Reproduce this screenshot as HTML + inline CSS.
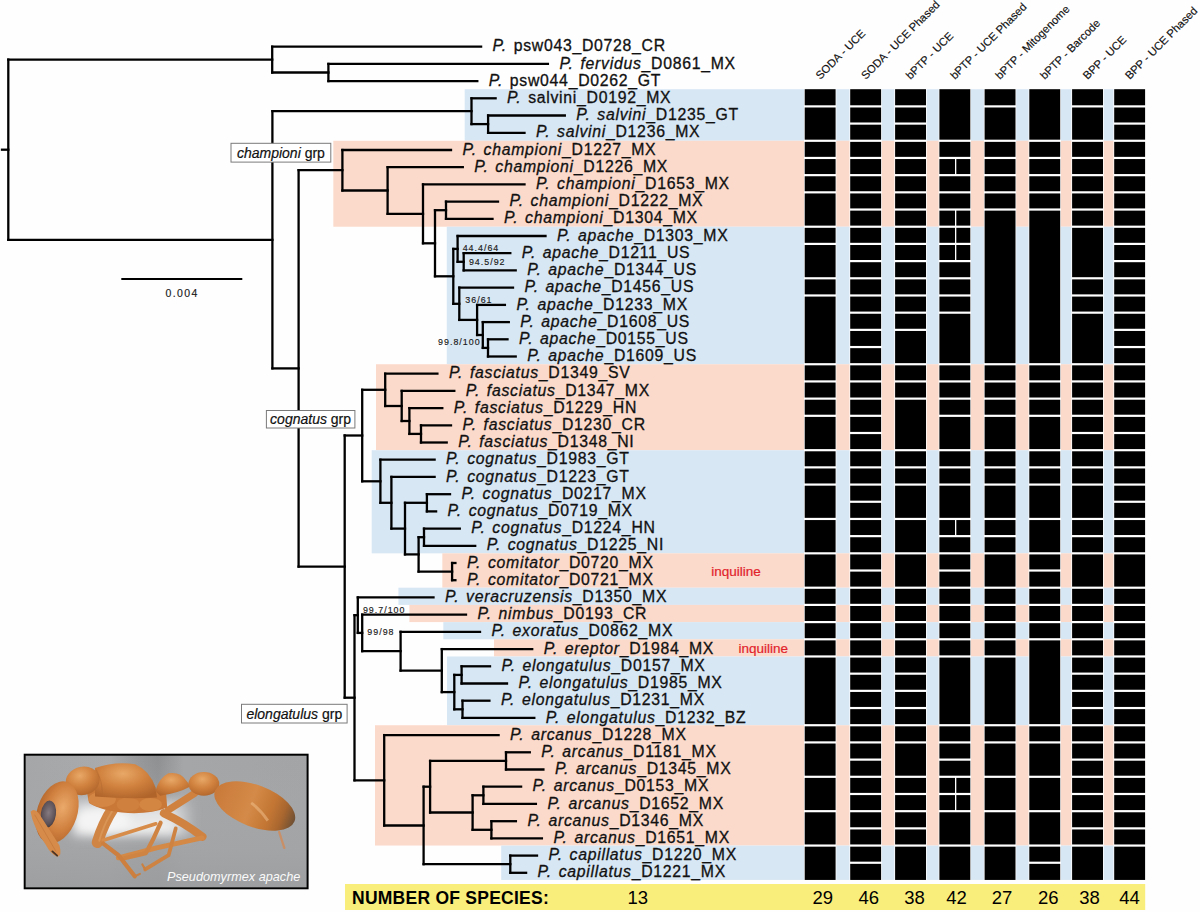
<!DOCTYPE html>
<html><head><meta charset="utf-8"><title>Pseudomyrmex species delimitation</title>
<style>html,body{margin:0;padding:0;background:#fff;}svg{display:block;font-family:"Liberation Sans",sans-serif;}</style></head><body>
<svg width="1200" height="912" viewBox="0 0 1200 912">
<rect x="0" y="0" width="1200" height="912" fill="#fefefe"/>
<rect x="464.7" y="89.20" width="680.5" height="51.57" fill="#d8e7f4"/>
<rect x="333.3" y="140.77" width="811.9" height="85.95" fill="#fbdacb"/>
<rect x="446.8" y="226.72" width="698.4" height="137.52" fill="#d8e7f4"/>
<rect x="376.0" y="364.24" width="769.2" height="85.95" fill="#fbdacb"/>
<rect x="371.7" y="450.19" width="773.5" height="103.14" fill="#d8e7f4"/>
<rect x="442.3" y="553.33" width="702.9" height="34.38" fill="#fbdacb"/>
<rect x="398.4" y="587.71" width="746.8" height="17.19" fill="#d8e7f4"/>
<rect x="409.4" y="604.90" width="735.8" height="17.19" fill="#fbdacb"/>
<rect x="443.3" y="622.09" width="701.9" height="17.19" fill="#d8e7f4"/>
<rect x="494.0" y="639.28" width="651.2" height="17.19" fill="#fbdacb"/>
<rect x="447.0" y="656.47" width="698.2" height="68.76" fill="#d8e7f4"/>
<rect x="375.0" y="725.23" width="770.2" height="120.33" fill="#fbdacb"/>
<rect x="501.2" y="845.56" width="644.0" height="34.38" fill="#d8e7f4"/>
<rect x="804.0" y="88.70" width="32.3" height="791.74" fill="#fff"/>
<rect x="804.7" y="89.20" width="30.9" height="16.09" fill="#000"/>
<rect x="804.7" y="107.49" width="30.9" height="32.18" fill="#000"/>
<rect x="804.7" y="141.87" width="30.9" height="14.99" fill="#000"/>
<rect x="804.7" y="159.06" width="30.9" height="14.99" fill="#000"/>
<rect x="804.7" y="176.25" width="30.9" height="14.99" fill="#000"/>
<rect x="804.7" y="193.44" width="30.9" height="32.18" fill="#000"/>
<rect x="804.7" y="227.82" width="30.9" height="14.99" fill="#000"/>
<rect x="804.7" y="245.01" width="30.9" height="32.18" fill="#000"/>
<rect x="804.7" y="279.39" width="30.9" height="14.99" fill="#000"/>
<rect x="804.7" y="296.58" width="30.9" height="66.56" fill="#000"/>
<rect x="804.7" y="365.34" width="30.9" height="14.99" fill="#000"/>
<rect x="804.7" y="382.53" width="30.9" height="14.99" fill="#000"/>
<rect x="804.7" y="399.72" width="30.9" height="14.99" fill="#000"/>
<rect x="804.7" y="416.91" width="30.9" height="32.18" fill="#000"/>
<rect x="804.7" y="451.29" width="30.9" height="14.99" fill="#000"/>
<rect x="804.7" y="468.48" width="30.9" height="14.99" fill="#000"/>
<rect x="804.7" y="485.67" width="30.9" height="32.18" fill="#000"/>
<rect x="804.7" y="520.05" width="30.9" height="32.18" fill="#000"/>
<rect x="804.7" y="554.43" width="30.9" height="32.18" fill="#000"/>
<rect x="804.7" y="588.81" width="30.9" height="14.99" fill="#000"/>
<rect x="804.7" y="606.00" width="30.9" height="14.99" fill="#000"/>
<rect x="804.7" y="623.19" width="30.9" height="14.99" fill="#000"/>
<rect x="804.7" y="640.38" width="30.9" height="14.99" fill="#000"/>
<rect x="804.7" y="657.57" width="30.9" height="66.56" fill="#000"/>
<rect x="804.7" y="726.33" width="30.9" height="14.99" fill="#000"/>
<rect x="804.7" y="743.52" width="30.9" height="32.18" fill="#000"/>
<rect x="804.7" y="777.90" width="30.9" height="32.18" fill="#000"/>
<rect x="804.7" y="812.28" width="30.9" height="32.18" fill="#000"/>
<rect x="804.7" y="846.66" width="30.9" height="33.28" fill="#000"/>
<rect x="849.5" y="88.70" width="32.3" height="791.74" fill="#fff"/>
<rect x="850.2" y="89.20" width="30.9" height="16.09" fill="#000"/>
<rect x="850.2" y="107.49" width="30.9" height="14.99" fill="#000"/>
<rect x="850.2" y="124.68" width="30.9" height="14.99" fill="#000"/>
<rect x="850.2" y="141.87" width="30.9" height="14.99" fill="#000"/>
<rect x="850.2" y="159.06" width="30.9" height="14.99" fill="#000"/>
<rect x="850.2" y="176.25" width="30.9" height="14.99" fill="#000"/>
<rect x="850.2" y="193.44" width="30.9" height="14.99" fill="#000"/>
<rect x="850.2" y="210.63" width="30.9" height="14.99" fill="#000"/>
<rect x="850.2" y="227.82" width="30.9" height="14.99" fill="#000"/>
<rect x="850.2" y="245.01" width="30.9" height="14.99" fill="#000"/>
<rect x="850.2" y="262.20" width="30.9" height="14.99" fill="#000"/>
<rect x="850.2" y="279.39" width="30.9" height="14.99" fill="#000"/>
<rect x="850.2" y="296.58" width="30.9" height="14.99" fill="#000"/>
<rect x="850.2" y="313.77" width="30.9" height="14.99" fill="#000"/>
<rect x="850.2" y="330.96" width="30.9" height="14.99" fill="#000"/>
<rect x="850.2" y="348.15" width="30.9" height="14.99" fill="#000"/>
<rect x="850.2" y="365.34" width="30.9" height="14.99" fill="#000"/>
<rect x="850.2" y="382.53" width="30.9" height="14.99" fill="#000"/>
<rect x="850.2" y="399.72" width="30.9" height="14.99" fill="#000"/>
<rect x="850.2" y="416.91" width="30.9" height="14.99" fill="#000"/>
<rect x="850.2" y="434.10" width="30.9" height="14.99" fill="#000"/>
<rect x="850.2" y="451.29" width="30.9" height="14.99" fill="#000"/>
<rect x="850.2" y="468.48" width="30.9" height="14.99" fill="#000"/>
<rect x="850.2" y="485.67" width="30.9" height="14.99" fill="#000"/>
<rect x="850.2" y="502.86" width="30.9" height="14.99" fill="#000"/>
<rect x="850.2" y="520.05" width="30.9" height="14.99" fill="#000"/>
<rect x="850.2" y="537.24" width="30.9" height="14.99" fill="#000"/>
<rect x="850.2" y="554.43" width="30.9" height="14.99" fill="#000"/>
<rect x="850.2" y="571.62" width="30.9" height="14.99" fill="#000"/>
<rect x="850.2" y="588.81" width="30.9" height="14.99" fill="#000"/>
<rect x="850.2" y="606.00" width="30.9" height="14.99" fill="#000"/>
<rect x="850.2" y="623.19" width="30.9" height="14.99" fill="#000"/>
<rect x="850.2" y="640.38" width="30.9" height="14.99" fill="#000"/>
<rect x="850.2" y="657.57" width="30.9" height="14.99" fill="#000"/>
<rect x="850.2" y="674.76" width="30.9" height="14.99" fill="#000"/>
<rect x="850.2" y="691.95" width="30.9" height="14.99" fill="#000"/>
<rect x="850.2" y="709.14" width="30.9" height="14.99" fill="#000"/>
<rect x="850.2" y="726.33" width="30.9" height="14.99" fill="#000"/>
<rect x="850.2" y="743.52" width="30.9" height="14.99" fill="#000"/>
<rect x="850.2" y="760.71" width="30.9" height="14.99" fill="#000"/>
<rect x="850.2" y="777.90" width="30.9" height="14.99" fill="#000"/>
<rect x="850.2" y="795.09" width="30.9" height="14.99" fill="#000"/>
<rect x="850.2" y="812.28" width="30.9" height="14.99" fill="#000"/>
<rect x="850.2" y="829.47" width="30.9" height="14.99" fill="#000"/>
<rect x="850.2" y="846.66" width="30.9" height="14.99" fill="#000"/>
<rect x="850.2" y="863.85" width="30.9" height="16.09" fill="#000"/>
<rect x="894.4" y="88.70" width="32.3" height="791.74" fill="#fff"/>
<rect x="895.1" y="89.20" width="30.9" height="16.09" fill="#000"/>
<rect x="895.1" y="107.49" width="30.9" height="14.99" fill="#000"/>
<rect x="895.1" y="124.68" width="30.9" height="14.99" fill="#000"/>
<rect x="895.1" y="141.87" width="30.9" height="14.99" fill="#000"/>
<rect x="895.1" y="159.06" width="30.9" height="14.99" fill="#000"/>
<rect x="895.1" y="176.25" width="30.9" height="14.99" fill="#000"/>
<rect x="895.1" y="193.44" width="30.9" height="14.99" fill="#000"/>
<rect x="895.1" y="210.63" width="30.9" height="14.99" fill="#000"/>
<rect x="895.1" y="227.82" width="30.9" height="14.99" fill="#000"/>
<rect x="895.1" y="245.01" width="30.9" height="14.99" fill="#000"/>
<rect x="895.1" y="262.20" width="30.9" height="14.99" fill="#000"/>
<rect x="895.1" y="279.39" width="30.9" height="14.99" fill="#000"/>
<rect x="895.1" y="296.58" width="30.9" height="14.99" fill="#000"/>
<rect x="895.1" y="313.77" width="30.9" height="14.99" fill="#000"/>
<rect x="895.1" y="330.96" width="30.9" height="32.18" fill="#000"/>
<rect x="895.1" y="365.34" width="30.9" height="14.99" fill="#000"/>
<rect x="895.1" y="382.53" width="30.9" height="14.99" fill="#000"/>
<rect x="895.1" y="399.72" width="30.9" height="49.37" fill="#000"/>
<rect x="895.1" y="451.29" width="30.9" height="14.99" fill="#000"/>
<rect x="895.1" y="468.48" width="30.9" height="14.99" fill="#000"/>
<rect x="895.1" y="485.67" width="30.9" height="32.18" fill="#000"/>
<rect x="895.1" y="520.05" width="30.9" height="32.18" fill="#000"/>
<rect x="895.1" y="554.43" width="30.9" height="32.18" fill="#000"/>
<rect x="895.1" y="588.81" width="30.9" height="14.99" fill="#000"/>
<rect x="895.1" y="606.00" width="30.9" height="14.99" fill="#000"/>
<rect x="895.1" y="623.19" width="30.9" height="14.99" fill="#000"/>
<rect x="895.1" y="640.38" width="30.9" height="14.99" fill="#000"/>
<rect x="895.1" y="657.57" width="30.9" height="14.99" fill="#000"/>
<rect x="895.1" y="674.76" width="30.9" height="14.99" fill="#000"/>
<rect x="895.1" y="691.95" width="30.9" height="14.99" fill="#000"/>
<rect x="895.1" y="709.14" width="30.9" height="14.99" fill="#000"/>
<rect x="895.1" y="726.33" width="30.9" height="14.99" fill="#000"/>
<rect x="895.1" y="743.52" width="30.9" height="32.18" fill="#000"/>
<rect x="895.1" y="777.90" width="30.9" height="14.99" fill="#000"/>
<rect x="895.1" y="795.09" width="30.9" height="14.99" fill="#000"/>
<rect x="895.1" y="812.28" width="30.9" height="14.99" fill="#000"/>
<rect x="895.1" y="829.47" width="30.9" height="14.99" fill="#000"/>
<rect x="895.1" y="846.66" width="30.9" height="33.28" fill="#000"/>
<rect x="938.7" y="88.70" width="32.3" height="791.74" fill="#fff"/>
<rect x="939.4" y="89.20" width="30.9" height="50.47" fill="#000"/>
<rect x="939.4" y="141.87" width="30.9" height="14.99" fill="#000"/>
<rect x="939.4" y="159.06" width="30.9" height="14.99" fill="#000"/>
<rect x="939.4" y="176.25" width="30.9" height="14.99" fill="#000"/>
<rect x="939.4" y="193.44" width="30.9" height="14.99" fill="#000"/>
<rect x="939.4" y="210.63" width="30.9" height="14.99" fill="#000"/>
<rect x="939.4" y="227.82" width="30.9" height="14.99" fill="#000"/>
<rect x="939.4" y="245.01" width="30.9" height="14.99" fill="#000"/>
<rect x="939.4" y="262.20" width="30.9" height="14.99" fill="#000"/>
<rect x="939.4" y="279.39" width="30.9" height="14.99" fill="#000"/>
<rect x="939.4" y="296.58" width="30.9" height="14.99" fill="#000"/>
<rect x="939.4" y="313.77" width="30.9" height="49.37" fill="#000"/>
<rect x="939.4" y="365.34" width="30.9" height="14.99" fill="#000"/>
<rect x="939.4" y="382.53" width="30.9" height="14.99" fill="#000"/>
<rect x="939.4" y="399.72" width="30.9" height="14.99" fill="#000"/>
<rect x="939.4" y="416.91" width="30.9" height="32.18" fill="#000"/>
<rect x="939.4" y="451.29" width="30.9" height="14.99" fill="#000"/>
<rect x="939.4" y="468.48" width="30.9" height="14.99" fill="#000"/>
<rect x="939.4" y="485.67" width="30.9" height="32.18" fill="#000"/>
<rect x="939.4" y="520.05" width="30.9" height="14.99" fill="#000"/>
<rect x="939.4" y="537.24" width="30.9" height="14.99" fill="#000"/>
<rect x="939.4" y="554.43" width="30.9" height="14.99" fill="#000"/>
<rect x="939.4" y="571.62" width="30.9" height="14.99" fill="#000"/>
<rect x="939.4" y="588.81" width="30.9" height="14.99" fill="#000"/>
<rect x="939.4" y="606.00" width="30.9" height="14.99" fill="#000"/>
<rect x="939.4" y="623.19" width="30.9" height="14.99" fill="#000"/>
<rect x="939.4" y="640.38" width="30.9" height="14.99" fill="#000"/>
<rect x="939.4" y="657.57" width="30.9" height="66.56" fill="#000"/>
<rect x="939.4" y="726.33" width="30.9" height="14.99" fill="#000"/>
<rect x="939.4" y="743.52" width="30.9" height="14.99" fill="#000"/>
<rect x="939.4" y="760.71" width="30.9" height="14.99" fill="#000"/>
<rect x="939.4" y="777.90" width="30.9" height="14.99" fill="#000"/>
<rect x="939.4" y="795.09" width="30.9" height="14.99" fill="#000"/>
<rect x="939.4" y="812.28" width="30.9" height="32.18" fill="#000"/>
<rect x="939.4" y="846.66" width="30.9" height="33.28" fill="#000"/>
<rect x="983.9" y="88.70" width="32.3" height="791.74" fill="#fff"/>
<rect x="984.6" y="89.20" width="30.9" height="16.09" fill="#000"/>
<rect x="984.6" y="107.49" width="30.9" height="32.18" fill="#000"/>
<rect x="984.6" y="141.87" width="30.9" height="14.99" fill="#000"/>
<rect x="984.6" y="159.06" width="30.9" height="14.99" fill="#000"/>
<rect x="984.6" y="176.25" width="30.9" height="14.99" fill="#000"/>
<rect x="984.6" y="193.44" width="30.9" height="14.99" fill="#000"/>
<rect x="984.6" y="210.63" width="30.9" height="152.51" fill="#000"/>
<rect x="984.6" y="365.34" width="30.9" height="14.99" fill="#000"/>
<rect x="984.6" y="382.53" width="30.9" height="14.99" fill="#000"/>
<rect x="984.6" y="399.72" width="30.9" height="14.99" fill="#000"/>
<rect x="984.6" y="416.91" width="30.9" height="32.18" fill="#000"/>
<rect x="984.6" y="451.29" width="30.9" height="14.99" fill="#000"/>
<rect x="984.6" y="468.48" width="30.9" height="14.99" fill="#000"/>
<rect x="984.6" y="485.67" width="30.9" height="32.18" fill="#000"/>
<rect x="984.6" y="520.05" width="30.9" height="14.99" fill="#000"/>
<rect x="984.6" y="537.24" width="30.9" height="14.99" fill="#000"/>
<rect x="984.6" y="554.43" width="30.9" height="32.18" fill="#000"/>
<rect x="984.6" y="588.81" width="30.9" height="14.99" fill="#000"/>
<rect x="984.6" y="606.00" width="30.9" height="14.99" fill="#000"/>
<rect x="984.6" y="623.19" width="30.9" height="14.99" fill="#000"/>
<rect x="984.6" y="640.38" width="30.9" height="14.99" fill="#000"/>
<rect x="984.6" y="657.57" width="30.9" height="66.56" fill="#000"/>
<rect x="984.6" y="726.33" width="30.9" height="14.99" fill="#000"/>
<rect x="984.6" y="743.52" width="30.9" height="32.18" fill="#000"/>
<rect x="984.6" y="777.90" width="30.9" height="32.18" fill="#000"/>
<rect x="984.6" y="812.28" width="30.9" height="32.18" fill="#000"/>
<rect x="984.6" y="846.66" width="30.9" height="33.28" fill="#000"/>
<rect x="1028.6" y="88.70" width="32.3" height="791.74" fill="#fff"/>
<rect x="1029.3" y="89.20" width="30.9" height="50.47" fill="#000"/>
<rect x="1029.3" y="141.87" width="30.9" height="14.99" fill="#000"/>
<rect x="1029.3" y="159.06" width="30.9" height="14.99" fill="#000"/>
<rect x="1029.3" y="176.25" width="30.9" height="14.99" fill="#000"/>
<rect x="1029.3" y="193.44" width="30.9" height="14.99" fill="#000"/>
<rect x="1029.3" y="210.63" width="30.9" height="152.51" fill="#000"/>
<rect x="1029.3" y="365.34" width="30.9" height="14.99" fill="#000"/>
<rect x="1029.3" y="382.53" width="30.9" height="14.99" fill="#000"/>
<rect x="1029.3" y="399.72" width="30.9" height="14.99" fill="#000"/>
<rect x="1029.3" y="416.91" width="30.9" height="32.18" fill="#000"/>
<rect x="1029.3" y="451.29" width="30.9" height="14.99" fill="#000"/>
<rect x="1029.3" y="468.48" width="30.9" height="14.99" fill="#000"/>
<rect x="1029.3" y="485.67" width="30.9" height="32.18" fill="#000"/>
<rect x="1029.3" y="520.05" width="30.9" height="32.18" fill="#000"/>
<rect x="1029.3" y="554.43" width="30.9" height="14.99" fill="#000"/>
<rect x="1029.3" y="571.62" width="30.9" height="14.99" fill="#000"/>
<rect x="1029.3" y="588.81" width="30.9" height="14.99" fill="#000"/>
<rect x="1029.3" y="606.00" width="30.9" height="14.99" fill="#000"/>
<rect x="1029.3" y="623.19" width="30.9" height="14.99" fill="#000"/>
<rect x="1029.3" y="640.38" width="30.9" height="83.75" fill="#000"/>
<rect x="1029.3" y="726.33" width="30.9" height="14.99" fill="#000"/>
<rect x="1029.3" y="743.52" width="30.9" height="32.18" fill="#000"/>
<rect x="1029.3" y="777.90" width="30.9" height="32.18" fill="#000"/>
<rect x="1029.3" y="812.28" width="30.9" height="32.18" fill="#000"/>
<rect x="1029.3" y="846.66" width="30.9" height="14.99" fill="#000"/>
<rect x="1029.3" y="863.85" width="30.9" height="16.09" fill="#000"/>
<rect x="1071.4" y="88.70" width="32.3" height="791.74" fill="#fff"/>
<rect x="1072.1" y="89.20" width="30.9" height="16.09" fill="#000"/>
<rect x="1072.1" y="107.49" width="30.9" height="32.18" fill="#000"/>
<rect x="1072.1" y="141.87" width="30.9" height="14.99" fill="#000"/>
<rect x="1072.1" y="159.06" width="30.9" height="14.99" fill="#000"/>
<rect x="1072.1" y="176.25" width="30.9" height="14.99" fill="#000"/>
<rect x="1072.1" y="193.44" width="30.9" height="14.99" fill="#000"/>
<rect x="1072.1" y="210.63" width="30.9" height="14.99" fill="#000"/>
<rect x="1072.1" y="227.82" width="30.9" height="49.37" fill="#000"/>
<rect x="1072.1" y="279.39" width="30.9" height="14.99" fill="#000"/>
<rect x="1072.1" y="296.58" width="30.9" height="14.99" fill="#000"/>
<rect x="1072.1" y="313.77" width="30.9" height="49.37" fill="#000"/>
<rect x="1072.1" y="365.34" width="30.9" height="14.99" fill="#000"/>
<rect x="1072.1" y="382.53" width="30.9" height="14.99" fill="#000"/>
<rect x="1072.1" y="399.72" width="30.9" height="14.99" fill="#000"/>
<rect x="1072.1" y="416.91" width="30.9" height="14.99" fill="#000"/>
<rect x="1072.1" y="434.10" width="30.9" height="14.99" fill="#000"/>
<rect x="1072.1" y="451.29" width="30.9" height="14.99" fill="#000"/>
<rect x="1072.1" y="468.48" width="30.9" height="14.99" fill="#000"/>
<rect x="1072.1" y="485.67" width="30.9" height="32.18" fill="#000"/>
<rect x="1072.1" y="520.05" width="30.9" height="14.99" fill="#000"/>
<rect x="1072.1" y="537.24" width="30.9" height="14.99" fill="#000"/>
<rect x="1072.1" y="554.43" width="30.9" height="32.18" fill="#000"/>
<rect x="1072.1" y="588.81" width="30.9" height="14.99" fill="#000"/>
<rect x="1072.1" y="606.00" width="30.9" height="14.99" fill="#000"/>
<rect x="1072.1" y="623.19" width="30.9" height="14.99" fill="#000"/>
<rect x="1072.1" y="640.38" width="30.9" height="14.99" fill="#000"/>
<rect x="1072.1" y="657.57" width="30.9" height="14.99" fill="#000"/>
<rect x="1072.1" y="674.76" width="30.9" height="14.99" fill="#000"/>
<rect x="1072.1" y="691.95" width="30.9" height="14.99" fill="#000"/>
<rect x="1072.1" y="709.14" width="30.9" height="14.99" fill="#000"/>
<rect x="1072.1" y="726.33" width="30.9" height="14.99" fill="#000"/>
<rect x="1072.1" y="743.52" width="30.9" height="14.99" fill="#000"/>
<rect x="1072.1" y="760.71" width="30.9" height="14.99" fill="#000"/>
<rect x="1072.1" y="777.90" width="30.9" height="14.99" fill="#000"/>
<rect x="1072.1" y="795.09" width="30.9" height="14.99" fill="#000"/>
<rect x="1072.1" y="812.28" width="30.9" height="14.99" fill="#000"/>
<rect x="1072.1" y="829.47" width="30.9" height="14.99" fill="#000"/>
<rect x="1072.1" y="846.66" width="30.9" height="33.28" fill="#000"/>
<rect x="1113.5" y="88.70" width="32.3" height="791.74" fill="#fff"/>
<rect x="1114.2" y="89.20" width="30.9" height="16.09" fill="#000"/>
<rect x="1114.2" y="107.49" width="30.9" height="14.99" fill="#000"/>
<rect x="1114.2" y="124.68" width="30.9" height="14.99" fill="#000"/>
<rect x="1114.2" y="141.87" width="30.9" height="14.99" fill="#000"/>
<rect x="1114.2" y="159.06" width="30.9" height="14.99" fill="#000"/>
<rect x="1114.2" y="176.25" width="30.9" height="14.99" fill="#000"/>
<rect x="1114.2" y="193.44" width="30.9" height="14.99" fill="#000"/>
<rect x="1114.2" y="210.63" width="30.9" height="14.99" fill="#000"/>
<rect x="1114.2" y="227.82" width="30.9" height="14.99" fill="#000"/>
<rect x="1114.2" y="245.01" width="30.9" height="14.99" fill="#000"/>
<rect x="1114.2" y="262.20" width="30.9" height="14.99" fill="#000"/>
<rect x="1114.2" y="279.39" width="30.9" height="14.99" fill="#000"/>
<rect x="1114.2" y="296.58" width="30.9" height="14.99" fill="#000"/>
<rect x="1114.2" y="313.77" width="30.9" height="14.99" fill="#000"/>
<rect x="1114.2" y="330.96" width="30.9" height="14.99" fill="#000"/>
<rect x="1114.2" y="348.15" width="30.9" height="14.99" fill="#000"/>
<rect x="1114.2" y="365.34" width="30.9" height="14.99" fill="#000"/>
<rect x="1114.2" y="382.53" width="30.9" height="14.99" fill="#000"/>
<rect x="1114.2" y="399.72" width="30.9" height="14.99" fill="#000"/>
<rect x="1114.2" y="416.91" width="30.9" height="14.99" fill="#000"/>
<rect x="1114.2" y="434.10" width="30.9" height="14.99" fill="#000"/>
<rect x="1114.2" y="451.29" width="30.9" height="14.99" fill="#000"/>
<rect x="1114.2" y="468.48" width="30.9" height="14.99" fill="#000"/>
<rect x="1114.2" y="485.67" width="30.9" height="14.99" fill="#000"/>
<rect x="1114.2" y="502.86" width="30.9" height="14.99" fill="#000"/>
<rect x="1114.2" y="520.05" width="30.9" height="14.99" fill="#000"/>
<rect x="1114.2" y="537.24" width="30.9" height="14.99" fill="#000"/>
<rect x="1114.2" y="554.43" width="30.9" height="32.18" fill="#000"/>
<rect x="1114.2" y="588.81" width="30.9" height="14.99" fill="#000"/>
<rect x="1114.2" y="606.00" width="30.9" height="14.99" fill="#000"/>
<rect x="1114.2" y="623.19" width="30.9" height="14.99" fill="#000"/>
<rect x="1114.2" y="640.38" width="30.9" height="14.99" fill="#000"/>
<rect x="1114.2" y="657.57" width="30.9" height="14.99" fill="#000"/>
<rect x="1114.2" y="674.76" width="30.9" height="14.99" fill="#000"/>
<rect x="1114.2" y="691.95" width="30.9" height="14.99" fill="#000"/>
<rect x="1114.2" y="709.14" width="30.9" height="14.99" fill="#000"/>
<rect x="1114.2" y="726.33" width="30.9" height="14.99" fill="#000"/>
<rect x="1114.2" y="743.52" width="30.9" height="14.99" fill="#000"/>
<rect x="1114.2" y="760.71" width="30.9" height="14.99" fill="#000"/>
<rect x="1114.2" y="777.90" width="30.9" height="14.99" fill="#000"/>
<rect x="1114.2" y="795.09" width="30.9" height="14.99" fill="#000"/>
<rect x="1114.2" y="812.28" width="30.9" height="14.99" fill="#000"/>
<rect x="1114.2" y="829.47" width="30.9" height="14.99" fill="#000"/>
<rect x="1114.2" y="846.66" width="30.9" height="33.28" fill="#000"/>
<rect x="955" y="518.95" width="1.3" height="17.19" fill="#fff"/>
<rect x="955" y="793.99" width="1.3" height="17.19" fill="#fff"/>
<rect x="955" y="157.96" width="1.3" height="17.19" fill="#fff"/>
<rect x="955" y="209.53" width="1.3" height="17.19" fill="#fff"/>
<rect x="955" y="226.72" width="1.3" height="17.19" fill="#fff"/>
<rect x="955" y="243.91" width="1.3" height="17.19" fill="#fff"/>
<rect x="955" y="776.80" width="1.3" height="17.19" fill="#fff"/>
<g stroke="#000" stroke-width="2.3" stroke-linecap="square" fill="none">
<line x1="272.2" y1="46.7" x2="481.1" y2="46.7"/>
<line x1="328.4" y1="63.9" x2="547.9" y2="63.9"/>
<line x1="328.4" y1="81.1" x2="477.3" y2="81.1"/>
<line x1="328.4" y1="63.9" x2="328.4" y2="81.1"/>
<line x1="272.2" y1="72.5" x2="328.4" y2="72.5"/>
<line x1="272.2" y1="46.7" x2="272.2" y2="72.5"/>
<line x1="8.3" y1="59.6" x2="272.2" y2="59.6"/>
<line x1="471.5" y1="98.3" x2="495.6" y2="98.3"/>
<line x1="488.1" y1="115.5" x2="564.8" y2="115.5"/>
<line x1="488.1" y1="132.8" x2="524.5" y2="132.8"/>
<line x1="488.1" y1="115.5" x2="488.1" y2="132.8"/>
<line x1="471.5" y1="124.1" x2="488.1" y2="124.1"/>
<line x1="471.5" y1="98.3" x2="471.5" y2="124.1"/>
<line x1="272.4" y1="111.2" x2="471.5" y2="111.2"/>
<line x1="342.4" y1="150.0" x2="451.0" y2="150.0"/>
<line x1="387.6" y1="167.2" x2="462.8" y2="167.2"/>
<line x1="423.0" y1="184.4" x2="524.5" y2="184.4"/>
<line x1="446.0" y1="201.6" x2="498.0" y2="201.6"/>
<line x1="446.0" y1="218.8" x2="492.5" y2="218.8"/>
<line x1="446.0" y1="201.6" x2="446.0" y2="218.8"/>
<line x1="435.0" y1="210.2" x2="446.0" y2="210.2"/>
<line x1="457.6" y1="236.0" x2="545.5" y2="236.0"/>
<line x1="463.7" y1="253.2" x2="510.3" y2="253.2"/>
<line x1="463.7" y1="270.4" x2="515.7" y2="270.4"/>
<line x1="463.7" y1="253.2" x2="463.7" y2="270.4"/>
<line x1="457.6" y1="261.8" x2="463.7" y2="261.8"/>
<line x1="457.6" y1="236.0" x2="457.6" y2="261.8"/>
<line x1="453.3" y1="248.9" x2="457.6" y2="248.9"/>
<line x1="459.3" y1="287.6" x2="513.0" y2="287.6"/>
<line x1="477.1" y1="304.9" x2="504.9" y2="304.9"/>
<line x1="482.8" y1="322.1" x2="508.8" y2="322.1"/>
<line x1="488.0" y1="339.3" x2="507.5" y2="339.3"/>
<line x1="488.0" y1="356.5" x2="515.7" y2="356.5"/>
<line x1="488.0" y1="339.3" x2="488.0" y2="356.5"/>
<line x1="482.8" y1="347.9" x2="488.0" y2="347.9"/>
<line x1="482.8" y1="322.1" x2="482.8" y2="347.9"/>
<line x1="477.1" y1="335.0" x2="482.8" y2="335.0"/>
<line x1="477.1" y1="304.9" x2="477.1" y2="335.0"/>
<line x1="459.3" y1="319.9" x2="477.1" y2="319.9"/>
<line x1="459.3" y1="287.6" x2="459.3" y2="319.9"/>
<line x1="453.3" y1="303.8" x2="459.3" y2="303.8"/>
<line x1="453.3" y1="248.9" x2="453.3" y2="303.8"/>
<line x1="435.0" y1="276.3" x2="453.3" y2="276.3"/>
<line x1="435.0" y1="210.2" x2="435.0" y2="276.3"/>
<line x1="423.0" y1="243.3" x2="435.0" y2="243.3"/>
<line x1="423.0" y1="184.4" x2="423.0" y2="243.3"/>
<line x1="387.6" y1="213.8" x2="423.0" y2="213.8"/>
<line x1="387.6" y1="167.2" x2="387.6" y2="213.8"/>
<line x1="342.4" y1="190.5" x2="387.6" y2="190.5"/>
<line x1="342.4" y1="150.0" x2="342.4" y2="190.5"/>
<line x1="298.6" y1="170.2" x2="342.4" y2="170.2"/>
<line x1="385.2" y1="373.7" x2="437.4" y2="373.7"/>
<line x1="401.7" y1="390.9" x2="454.3" y2="390.9"/>
<line x1="409.4" y1="408.1" x2="442.3" y2="408.1"/>
<line x1="421.0" y1="425.3" x2="451.0" y2="425.3"/>
<line x1="421.0" y1="442.5" x2="446.7" y2="442.5"/>
<line x1="421.0" y1="425.3" x2="421.0" y2="442.5"/>
<line x1="409.4" y1="433.9" x2="421.0" y2="433.9"/>
<line x1="409.4" y1="408.1" x2="409.4" y2="433.9"/>
<line x1="401.7" y1="421.0" x2="409.4" y2="421.0"/>
<line x1="401.7" y1="390.9" x2="401.7" y2="421.0"/>
<line x1="385.2" y1="406.0" x2="401.7" y2="406.0"/>
<line x1="385.2" y1="373.7" x2="385.2" y2="406.0"/>
<line x1="362.2" y1="389.8" x2="385.2" y2="389.8"/>
<line x1="380.4" y1="459.7" x2="434.6" y2="459.7"/>
<line x1="391.4" y1="476.9" x2="434.6" y2="476.9"/>
<line x1="426.9" y1="494.2" x2="450.0" y2="494.2"/>
<line x1="426.9" y1="511.4" x2="436.1" y2="511.4"/>
<line x1="426.9" y1="494.2" x2="426.9" y2="511.4"/>
<line x1="405.0" y1="502.8" x2="426.9" y2="502.8"/>
<line x1="424.0" y1="528.6" x2="459.8" y2="528.6"/>
<line x1="424.0" y1="545.8" x2="475.2" y2="545.8"/>
<line x1="424.0" y1="528.6" x2="424.0" y2="545.8"/>
<line x1="418.6" y1="537.2" x2="424.0" y2="537.2"/>
<line x1="452.1" y1="563.0" x2="455.4" y2="563.0"/>
<line x1="452.1" y1="580.2" x2="455.4" y2="580.2"/>
<line x1="452.1" y1="563.0" x2="452.1" y2="580.2"/>
<line x1="418.6" y1="571.6" x2="452.1" y2="571.6"/>
<line x1="418.6" y1="537.2" x2="418.6" y2="571.6"/>
<line x1="405.0" y1="554.4" x2="418.6" y2="554.4"/>
<line x1="405.0" y1="502.8" x2="405.0" y2="554.4"/>
<line x1="391.4" y1="528.6" x2="405.0" y2="528.6"/>
<line x1="391.4" y1="476.9" x2="391.4" y2="528.6"/>
<line x1="380.4" y1="502.8" x2="391.4" y2="502.8"/>
<line x1="380.4" y1="459.7" x2="380.4" y2="502.8"/>
<line x1="362.2" y1="481.3" x2="380.4" y2="481.3"/>
<line x1="362.2" y1="389.8" x2="362.2" y2="481.3"/>
<line x1="344.7" y1="435.5" x2="362.2" y2="435.5"/>
<line x1="357.8" y1="597.4" x2="433.5" y2="597.4"/>
<line x1="362.2" y1="614.6" x2="466.0" y2="614.6"/>
<line x1="400.6" y1="631.8" x2="480.0" y2="631.8"/>
<line x1="441.8" y1="649.1" x2="532.2" y2="649.1"/>
<line x1="461.6" y1="666.3" x2="490.0" y2="666.3"/>
<line x1="461.6" y1="683.5" x2="507.0" y2="683.5"/>
<line x1="461.6" y1="666.3" x2="461.6" y2="683.5"/>
<line x1="454.3" y1="674.9" x2="461.6" y2="674.9"/>
<line x1="462.5" y1="700.7" x2="489.4" y2="700.7"/>
<line x1="462.5" y1="717.9" x2="534.3" y2="717.9"/>
<line x1="462.5" y1="700.7" x2="462.5" y2="717.9"/>
<line x1="454.3" y1="709.3" x2="462.5" y2="709.3"/>
<line x1="454.3" y1="674.9" x2="454.3" y2="709.3"/>
<line x1="441.8" y1="692.1" x2="454.3" y2="692.1"/>
<line x1="441.8" y1="649.1" x2="441.8" y2="692.1"/>
<line x1="400.6" y1="670.6" x2="441.8" y2="670.6"/>
<line x1="400.6" y1="631.8" x2="400.6" y2="670.6"/>
<line x1="362.2" y1="651.2" x2="400.6" y2="651.2"/>
<line x1="362.2" y1="614.6" x2="362.2" y2="651.2"/>
<line x1="357.8" y1="632.9" x2="362.2" y2="632.9"/>
<line x1="357.8" y1="597.4" x2="357.8" y2="632.9"/>
<line x1="354.5" y1="615.2" x2="357.8" y2="615.2"/>
<line x1="384.2" y1="735.1" x2="498.6" y2="735.1"/>
<line x1="506.0" y1="752.3" x2="529.8" y2="752.3"/>
<line x1="506.0" y1="769.5" x2="543.4" y2="769.5"/>
<line x1="506.0" y1="752.3" x2="506.0" y2="769.5"/>
<line x1="430.1" y1="760.9" x2="506.0" y2="760.9"/>
<line x1="483.4" y1="786.7" x2="521.1" y2="786.7"/>
<line x1="483.4" y1="803.9" x2="535.9" y2="803.9"/>
<line x1="483.4" y1="786.7" x2="483.4" y2="803.9"/>
<line x1="472.6" y1="795.3" x2="483.4" y2="795.3"/>
<line x1="491.4" y1="821.2" x2="515.9" y2="821.2"/>
<line x1="491.4" y1="838.4" x2="541.9" y2="838.4"/>
<line x1="491.4" y1="821.2" x2="491.4" y2="838.4"/>
<line x1="472.6" y1="829.8" x2="491.4" y2="829.8"/>
<line x1="472.6" y1="795.3" x2="472.6" y2="829.8"/>
<line x1="430.1" y1="812.5" x2="472.6" y2="812.5"/>
<line x1="430.1" y1="760.9" x2="430.1" y2="812.5"/>
<line x1="423.6" y1="786.7" x2="430.1" y2="786.7"/>
<line x1="510.3" y1="855.6" x2="537.0" y2="855.6"/>
<line x1="510.3" y1="872.8" x2="526.1" y2="872.8"/>
<line x1="510.3" y1="855.6" x2="510.3" y2="872.8"/>
<line x1="423.6" y1="864.2" x2="510.3" y2="864.2"/>
<line x1="423.6" y1="786.7" x2="423.6" y2="864.2"/>
<line x1="384.2" y1="825.5" x2="423.6" y2="825.5"/>
<line x1="384.2" y1="735.1" x2="384.2" y2="825.5"/>
<line x1="354.5" y1="780.3" x2="384.2" y2="780.3"/>
<line x1="354.5" y1="615.2" x2="354.5" y2="780.3"/>
<line x1="344.7" y1="697.7" x2="354.5" y2="697.7"/>
<line x1="344.7" y1="435.5" x2="344.7" y2="697.7"/>
<line x1="298.6" y1="566.6" x2="344.7" y2="566.6"/>
<line x1="298.6" y1="170.2" x2="298.6" y2="566.6"/>
<line x1="272.4" y1="368.4" x2="298.6" y2="368.4"/>
<line x1="272.4" y1="111.2" x2="272.4" y2="368.4"/>
<line x1="8.3" y1="239.8" x2="272.4" y2="239.8"/>
<line x1="8.3" y1="59.6" x2="8.3" y2="239.8"/>
<line x1="2.0" y1="149.7" x2="8.3" y2="149.7"/>
</g>
<rect x="231.0" y="143.3" width="99.8" height="18.8" fill="#fff" stroke="#7a7a7a" stroke-width="1"/>
<text x="280.9" y="157.7" font-size="14" text-anchor="middle" fill="#111" stroke="#111" stroke-width="0.2"><tspan font-style="italic">championi</tspan> grp</text>
<rect x="266.4" y="410.5" width="88.5" height="17.5" fill="#fff" stroke="#7a7a7a" stroke-width="1"/>
<text x="310.6" y="423.6" font-size="14" text-anchor="middle" fill="#111" stroke="#111" stroke-width="0.2"><tspan font-style="italic">cognatus</tspan> grp</text>
<rect x="241.5" y="704.3" width="105.6" height="18.7" fill="#fff" stroke="#7a7a7a" stroke-width="1"/>
<text x="294.3" y="718.6" font-size="14" text-anchor="middle" fill="#111" stroke="#111" stroke-width="0.2"><tspan font-style="italic">elongatulus</tspan> grp</text>
<g font-size="15.8" letter-spacing="0.72" word-spacing="1.6" fill="#111" stroke="#111" stroke-width="0.3">
<text x="492.6" y="51.3"><tspan font-style="italic">P. </tspan><tspan>psw043</tspan>_D0728_CR</text>
<text x="559.4" y="68.5"><tspan font-style="italic">P. </tspan><tspan font-style="italic">fervidus</tspan>_D0861_MX</text>
<text x="488.8" y="85.7"><tspan font-style="italic">P. </tspan><tspan>psw044</tspan>_D0262_GT</text>
<text x="507.1" y="102.9"><tspan font-style="italic">P. </tspan><tspan>salvini</tspan>_D0192_MX</text>
<text x="576.3" y="120.1"><tspan font-style="italic">P. </tspan><tspan font-style="italic">salvini</tspan>_D1235_GT</text>
<text x="536.0" y="137.3"><tspan font-style="italic">P. </tspan><tspan font-style="italic">salvini</tspan>_D1236_MX</text>
<text x="462.5" y="154.6"><tspan font-style="italic">P. </tspan><tspan font-style="italic">championi</tspan>_D1227_MX</text>
<text x="474.3" y="171.8"><tspan font-style="italic">P. </tspan><tspan font-style="italic">championi</tspan>_D1226_MX</text>
<text x="536.0" y="189.0"><tspan font-style="italic">P. </tspan><tspan font-style="italic">championi</tspan>_D1653_MX</text>
<text x="509.5" y="206.2"><tspan font-style="italic">P. </tspan><tspan font-style="italic">championi</tspan>_D1222_MX</text>
<text x="504.0" y="223.4"><tspan font-style="italic">P. </tspan><tspan font-style="italic">championi</tspan>_D1304_MX</text>
<text x="557.0" y="240.6"><tspan font-style="italic">P. </tspan><tspan font-style="italic">apache</tspan>_D1303_MX</text>
<text x="521.8" y="257.8"><tspan font-style="italic">P. </tspan><tspan font-style="italic">apache</tspan>_D1211_US</text>
<text x="527.2" y="275.0"><tspan font-style="italic">P. </tspan><tspan font-style="italic">apache</tspan>_D1344_US</text>
<text x="524.5" y="292.2"><tspan font-style="italic">P. </tspan><tspan font-style="italic">apache</tspan>_D1456_US</text>
<text x="516.4" y="309.5"><tspan font-style="italic">P. </tspan><tspan font-style="italic">apache</tspan>_D1233_MX</text>
<text x="520.3" y="326.7"><tspan font-style="italic">P. </tspan><tspan font-style="italic">apache</tspan>_D1608_US</text>
<text x="519.0" y="343.9"><tspan font-style="italic">P. </tspan><tspan font-style="italic">apache</tspan>_D0155_US</text>
<text x="527.2" y="361.1"><tspan font-style="italic">P. </tspan><tspan font-style="italic">apache</tspan>_D1609_US</text>
<text x="448.9" y="378.3"><tspan font-style="italic">P. </tspan><tspan font-style="italic">fasciatus</tspan>_D1349_SV</text>
<text x="465.8" y="395.5"><tspan font-style="italic">P. </tspan><tspan font-style="italic">fasciatus</tspan>_D1347_MX</text>
<text x="453.8" y="412.7"><tspan font-style="italic">P. </tspan><tspan font-style="italic">fasciatus</tspan>_D1229_HN</text>
<text x="462.5" y="429.9"><tspan font-style="italic">P. </tspan><tspan font-style="italic">fasciatus</tspan>_D1230_CR</text>
<text x="458.2" y="447.1"><tspan font-style="italic">P. </tspan><tspan font-style="italic">fasciatus</tspan>_D1348_NI</text>
<text x="446.1" y="464.3"><tspan font-style="italic">P. </tspan><tspan font-style="italic">cognatus</tspan>_D1983_GT</text>
<text x="446.1" y="481.6"><tspan font-style="italic">P. </tspan><tspan font-style="italic">cognatus</tspan>_D1223_GT</text>
<text x="461.5" y="498.8"><tspan font-style="italic">P. </tspan><tspan font-style="italic">cognatus</tspan>_D0217_MX</text>
<text x="447.6" y="516.0"><tspan font-style="italic">P. </tspan><tspan font-style="italic">cognatus</tspan>_D0719_MX</text>
<text x="471.3" y="533.2"><tspan font-style="italic">P. </tspan><tspan font-style="italic">cognatus</tspan>_D1224_HN</text>
<text x="486.7" y="550.4"><tspan font-style="italic">P. </tspan><tspan font-style="italic">cognatus</tspan>_D1225_NI</text>
<text x="466.9" y="567.6"><tspan font-style="italic">P. </tspan><tspan font-style="italic">comitator</tspan>_D0720_MX</text>
<text x="466.9" y="584.8"><tspan font-style="italic">P. </tspan><tspan font-style="italic">comitator</tspan>_D0721_MX</text>
<text x="445.0" y="602.0"><tspan font-style="italic">P. </tspan><tspan font-style="italic">veracruzensis</tspan>_D1350_MX</text>
<text x="477.5" y="619.2"><tspan font-style="italic">P. </tspan><tspan font-style="italic">nimbus</tspan>_D0193_CR</text>
<text x="491.5" y="636.4"><tspan font-style="italic">P. </tspan><tspan font-style="italic">exoratus</tspan>_D0862_MX</text>
<text x="543.7" y="653.7"><tspan font-style="italic">P. </tspan><tspan font-style="italic">ereptor</tspan>_D1984_MX</text>
<text x="501.5" y="670.9"><tspan font-style="italic">P. </tspan><tspan font-style="italic">elongatulus</tspan>_D0157_MX</text>
<text x="518.5" y="688.1"><tspan font-style="italic">P. </tspan><tspan font-style="italic">elongatulus</tspan>_D1985_MX</text>
<text x="500.9" y="705.3"><tspan font-style="italic">P. </tspan><tspan font-style="italic">elongatulus</tspan>_D1231_MX</text>
<text x="545.8" y="722.5"><tspan font-style="italic">P. </tspan><tspan font-style="italic">elongatulus</tspan>_D1232_BZ</text>
<text x="510.1" y="739.7"><tspan font-style="italic">P. </tspan><tspan font-style="italic">arcanus</tspan>_D1228_MX</text>
<text x="541.3" y="756.9"><tspan font-style="italic">P. </tspan><tspan font-style="italic">arcanus</tspan>_D1181_MX</text>
<text x="554.9" y="774.1"><tspan font-style="italic">P. </tspan><tspan font-style="italic">arcanus</tspan>_D1345_MX</text>
<text x="532.6" y="791.3"><tspan font-style="italic">P. </tspan><tspan font-style="italic">arcanus</tspan>_D0153_MX</text>
<text x="547.4" y="808.5"><tspan font-style="italic">P. </tspan><tspan font-style="italic">arcanus</tspan>_D1652_MX</text>
<text x="527.4" y="825.8"><tspan font-style="italic">P. </tspan><tspan font-style="italic">arcanus</tspan>_D1346_MX</text>
<text x="553.4" y="843.0"><tspan font-style="italic">P. </tspan><tspan font-style="italic">arcanus</tspan>_D1651_MX</text>
<text x="548.5" y="860.2"><tspan font-style="italic">P. </tspan><tspan font-style="italic">capillatus</tspan>_D1220_MX</text>
<text x="537.6" y="877.4"><tspan font-style="italic">P. </tspan><tspan font-style="italic">capillatus</tspan>_D1221_MX</text>
</g>
<g font-size="8.9" letter-spacing="1.0" fill="#1a1a1a" stroke="#1a1a1a" stroke-width="0.15">
<text x="462.7" y="250.5">44.4/64</text>
<text x="468.9" y="265.4">94.5/92</text>
<text x="465.3" y="303.0">36/61</text>
<text x="438.1" y="344.6">99.8/100</text>
<text x="362.9" y="612.6">99.7/100</text>
<text x="367.3" y="635.2">99/98</text>
</g>
<text x="711.3" y="576" font-size="13.5" fill="#e2222a" stroke="#e2222a" stroke-width="0.2">inquiline</text>
<text x="738.4" y="653.4" font-size="13.5" fill="#e2222a" stroke="#e2222a" stroke-width="0.2">inquiline</text>
<line x1="121.3" y1="279.1" x2="242.3" y2="279.1" stroke="#000" stroke-width="2"/>
<text x="182.1" y="296.6" font-size="10.5" letter-spacing="1.4" text-anchor="middle" fill="#1a1a1a" stroke="#1a1a1a" stroke-width="0.15">0.004</text>
<g font-size="11.2" fill="#111" stroke="#111" stroke-width="0.15">
<text transform="translate(820.2,80.0) rotate(-45)">SODA - UCE</text>
<text transform="translate(865.7,80.0) rotate(-45)">SODA - UCE Phased</text>
<text transform="translate(910.6,80.0) rotate(-45)">bPTP - UCE</text>
<text transform="translate(954.9,80.0) rotate(-45)">bPTP - UCE Phased</text>
<text transform="translate(1000.1,80.0) rotate(-45)">bPTP - Mitogenome</text>
<text transform="translate(1044.8,80.0) rotate(-45)">bPTP - Barcode</text>
<text transform="translate(1087.6,80.0) rotate(-45)">BPP - UCE</text>
<text transform="translate(1129.7,80.0) rotate(-45)">BPP - UCE Phased</text>
</g>
<rect x="345" y="884" width="800.2" height="26" fill="#f9ee7c"/>
<text x="352" y="903.7" font-size="17.5" font-weight="bold" letter-spacing="0.25" fill="#000">NUMBER OF SPECIES:</text>
<text x="627.5" y="903.7" font-size="18.5" fill="#000">13</text>
<text x="822.8" y="903.7" font-size="18.5" text-anchor="middle" fill="#000">29</text>
<text x="868.7" y="903.7" font-size="18.5" text-anchor="middle" fill="#000">46</text>
<text x="914.6" y="903.7" font-size="18.5" text-anchor="middle" fill="#000">38</text>
<text x="956.6" y="903.7" font-size="18.5" text-anchor="middle" fill="#000">42</text>
<text x="1002.1" y="903.7" font-size="18.5" text-anchor="middle" fill="#000">27</text>
<text x="1048.3" y="903.7" font-size="18.5" text-anchor="middle" fill="#000">26</text>
<text x="1089.6" y="903.7" font-size="18.5" text-anchor="middle" fill="#000">38</text>
<text x="1129.5" y="903.7" font-size="18.5" text-anchor="middle" fill="#000">44</text>
<defs>
<filter id="blr" x="-20%" y="-30%" width="140%" height="160%"><feGaussianBlur stdDeviation="18"/></filter>
<clipPath id="pc"><rect x="25.5" y="755" width="281.5" height="132.5"/></clipPath>
<linearGradient id="bgg" x1="0" y1="0" x2="1" y2="0">
<stop offset="0" stop-color="#a4a6a8"/><stop offset="0.3" stop-color="#a9abad"/><stop offset="0.4" stop-color="#96989a"/><stop offset="0.47" stop-color="#8d8f91"/><stop offset="0.56" stop-color="#a4a6a8"/><stop offset="1" stop-color="#a2a4a6"/>
</linearGradient>
<linearGradient id="vfade" x1="0" y1="0" x2="0" y2="1">
<stop offset="0" stop-color="#a4a6a8" stop-opacity="0"/><stop offset="0.4" stop-color="#a4a6a8" stop-opacity="0.55"/><stop offset="0.7" stop-color="#a2a4a6" stop-opacity="0.85"/><stop offset="1" stop-color="#9c9ea0" stop-opacity="0.9"/>
</linearGradient>
<linearGradient id="hlg" x1="0" y1="0" x2="0" y2="1">
<stop offset="0" stop-color="#e9eaeb" stop-opacity="0"/><stop offset="0.35" stop-color="#e6e7e8" stop-opacity="0.9"/><stop offset="0.85" stop-color="#f0f0f0" stop-opacity="1"/><stop offset="1" stop-color="#c8c9ca" stop-opacity="0.6"/>
</linearGradient>
<linearGradient id="hlx" x1="0" y1="0" x2="1" y2="0">
<stop offset="0" stop-color="#fff" stop-opacity="0.3"/><stop offset="0.08" stop-color="#fff" stop-opacity="1"/><stop offset="0.8" stop-color="#fff" stop-opacity="1"/><stop offset="1" stop-color="#fff" stop-opacity="0"/>
</linearGradient>
<mask id="hlm"><rect x="195" y="170" width="530" height="200" fill="url(#hlx)"/></mask>
<radialGradient id="bodyg" cx="0.45" cy="0.3" r="0.75">
<stop offset="0" stop-color="#e8a867"/><stop offset="0.5" stop-color="#d1823f"/><stop offset="1" stop-color="#b0642a"/>
</radialGradient>
<radialGradient id="headg" cx="0.6" cy="0.4" r="0.7">
<stop offset="0" stop-color="#eaa96a"/><stop offset="0.55" stop-color="#cf7f3e"/><stop offset="1" stop-color="#aa5f28"/>
</radialGradient>
<linearGradient id="gasg" x1="0" y1="0" x2="1" y2="0">
<stop offset="0" stop-color="#c97a3a"/><stop offset="0.45" stop-color="#d48a48"/><stop offset="0.7" stop-color="#c37634"/><stop offset="0.85" stop-color="#a8662f"/><stop offset="1" stop-color="#6f5034"/>
</linearGradient>
<radialGradient id="eyeg" cx="0.5" cy="0.45" r="0.6">
<stop offset="0" stop-color="#857a80"/><stop offset="0.7" stop-color="#5d5258"/><stop offset="1" stop-color="#3e3436"/>
</radialGradient>
</defs>
<g clip-path="url(#pc)">
<rect x="24" y="754" width="285" height="135" fill="url(#bgg)"/>
<rect x="24" y="754" width="285" height="135" fill="url(#vfade)"/>
<g transform="translate(24 752) scale(0.23669)">
<g filter="url(#blr)"><rect x="195" y="175" width="530" height="190" fill="url(#hlg)" mask="url(#hlm)"/><ellipse cx="330" cy="290" rx="120" ry="60" fill="#f4f4f4"/></g>
<g stroke-linecap="round" stroke-linejoin="round" fill="none">
<path d="M610 245 L720 175" stroke="#cf8140" stroke-width="30"/>
<path d="M591 259 Q680 300 754 358" stroke="#d08341" stroke-width="34"/>
<path d="M752 363 L560 405 L399 447" stroke="#d48946" stroke-width="21"/>
<path d="M577 299 L545 370 L515 427 L420 450" stroke="#cf8443" stroke-width="18"/>
<path d="M641 323 L611 436 L512 496" stroke="#ce8343" stroke-width="16"/>
<path d="M512 496 L500 475" stroke="#c98040" stroke-width="9"/>
<path d="M379 234 Q335 300 310 382" stroke="#d08545" stroke-width="48"/>
<path d="M372 250 Q335 310 318 375" stroke="#e0a060" stroke-width="8" opacity="0.6"/>
<path d="M335 373 L557 303" stroke="#d78c4a" stroke-width="15"/>
<path d="M335 387 L399 436 L468 525" stroke="#cc7f3e" stroke-width="18"/>
<path d="M468 525 L490 515" stroke="#c98040" stroke-width="9"/>
</g>
<path d="M262 150 L600 170 L605 235 Q540 262 440 258 Q330 250 275 215 Z" fill="#c97838"/>
<ellipse cx="330" cy="200" rx="58" ry="32" fill="#d48744"/>
<ellipse cx="440" cy="222" rx="48" ry="30" fill="#cf803e"/>
<ellipse cx="535" cy="222" rx="48" ry="28" fill="#d38542"/>
<path d="M300 68 Q385 38 470 52 Q530 78 556 150 L562 192 Q440 200 300 188 Z" fill="url(#bodyg)"/>
<ellipse cx="248" cy="122" rx="72" ry="60" transform="rotate(-12 248 122)" fill="url(#bodyg)"/>
<path d="M305 75 Q335 130 330 190" stroke="#b36a30" stroke-width="5" fill="none" opacity="0.5"/>
<path d="M555 165 Q570 110 610 90 Q660 82 685 120 L705 145 Q650 175 575 185 Z" fill="url(#bodyg)"/>
<ellipse cx="760" cy="135" rx="65" ry="50" fill="url(#bodyg)"/>
<ellipse cx="975" cy="228" rx="180" ry="88" transform="rotate(21 975 228)" fill="url(#gasg)"/>
<path d="M960 215 Q1000 245 1030 290" stroke="#f2c28e" stroke-width="12" fill="none" opacity="0.5"/>
<path d="M1078 338 L1090 375 L1100 405" stroke="#c99068" stroke-width="10" fill="none" stroke-linecap="round"/>
<ellipse cx="140" cy="255" rx="85" ry="135" transform="rotate(18 140 255)" fill="url(#headg)"/>
<ellipse cx="103" cy="262" rx="32" ry="57" transform="rotate(8 103 262)" fill="url(#eyeg)"/>
<path d="M28 252 Q42 236 62 258 L150 395 Q162 440 140 442 Q112 432 92 392 Q36 312 28 252 Z" fill="#d68b4a"/>
<path d="M45 265 L135 420" stroke="#b96d32" stroke-width="4" fill="none" opacity="0.5"/>
<path d="M120 420 L140 438" stroke="#4a3426" stroke-width="8" stroke-linecap="round"/>
</g>
<text x="167" y="881.4" font-size="12.7" font-style="italic" fill="#fafafa">Pseudomyrmex apache</text>
</g>
<rect x="24.7" y="754.7" width="282.9" height="133.6" fill="none" stroke="#000" stroke-width="2"/>
</svg>
</body></html>
